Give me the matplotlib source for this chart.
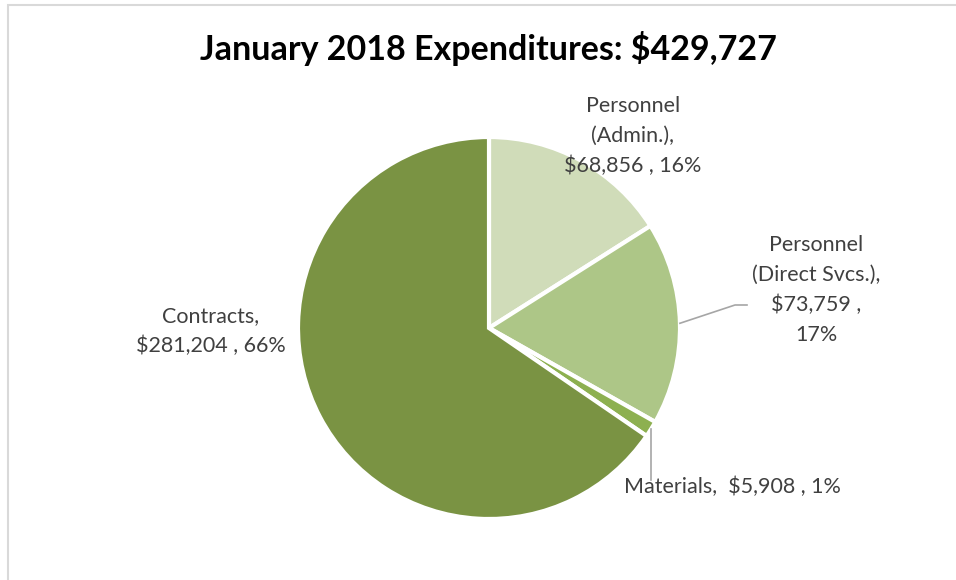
import numpy as np
import matplotlib
matplotlib.use("Agg")
import matplotlib.pyplot as plt
from matplotlib.patches import Rectangle

title = "January 2018 Expenditures: $429,727"
categories = ["Personnel (Admin.)", "Personnel (Direct Svcs.)", "Materials", "Contracts"]
values = [68856, 73759, 5908, 281204]
label_texts = ["Personnel\n(Admin.),\n$68,856 , 16%",
               "Personnel\n(Direct Svcs.),\n$73,759 ,\n17%",
               "Materials,  $5,908 , 1%",
               "Contracts,\n$281,204 , 66%"]
colors = ["#d0dcb9", "#adc687", "#8db050", "#7a9343"]

W, H = 956, 580
fig = plt.figure(figsize=(W / 100, H / 100), dpi=100)
ax = fig.add_axes([0, 0, 1, 1])
ax.set_xlim(0, W)
ax.set_ylim(0, H)
ax.axis("off")

cx, cy, R = 489, 252, 191
wedges, _ = ax.pie(values, colors=colors, startangle=90, counterclock=False,
                   center=(cx, cy), radius=R,
                   wedgeprops=dict(edgecolor="white", linewidth=3))
ax.set_xlim(0, W)
ax.set_ylim(0, H)
ax.set_aspect("equal")

ax.add_patch(Rectangle((8, -20), 980, 595, fill=False, edgecolor="#d9d9d9", lw=1.5))

font = "Lato"
tc = "#404040"
fs = 15.5
# label positions (centers)
pos = [(633, 444), (816, 290), (732, 93), (211, 249)]
for t, (x, y) in zip(label_texts, pos):
    ax.text(x, y, t, ha="center", va="center", fontsize=fs, color=tc,
            family=font, linespacing=1.6)

# leader lines computed from wedge mid-angles
total = sum(values)
cum = np.cumsum([0] + values)
def edge_pt(i):
    mid = (cum[i] + cum[i + 1]) / 2 / total
    ang = np.deg2rad(90 - 360 * mid)
    return cx + R * np.cos(ang), cy + R * np.sin(ang)

x1, y1 = edge_pt(1)
ax.plot([x1, 735, 747], [y1, 275, 275], color="#a6a6a6", lw=1.2)
x2, y2 = edge_pt(2)
ax.plot([x2, x2], [y2, 100], color="#a6a6a6", lw=1.2)

ax.text(488, 532, title, ha="center", va="center", fontsize=24.5,
        fontweight="bold", family=font, color="black")

fig.savefig("out.png", dpi=100, facecolor="white")
